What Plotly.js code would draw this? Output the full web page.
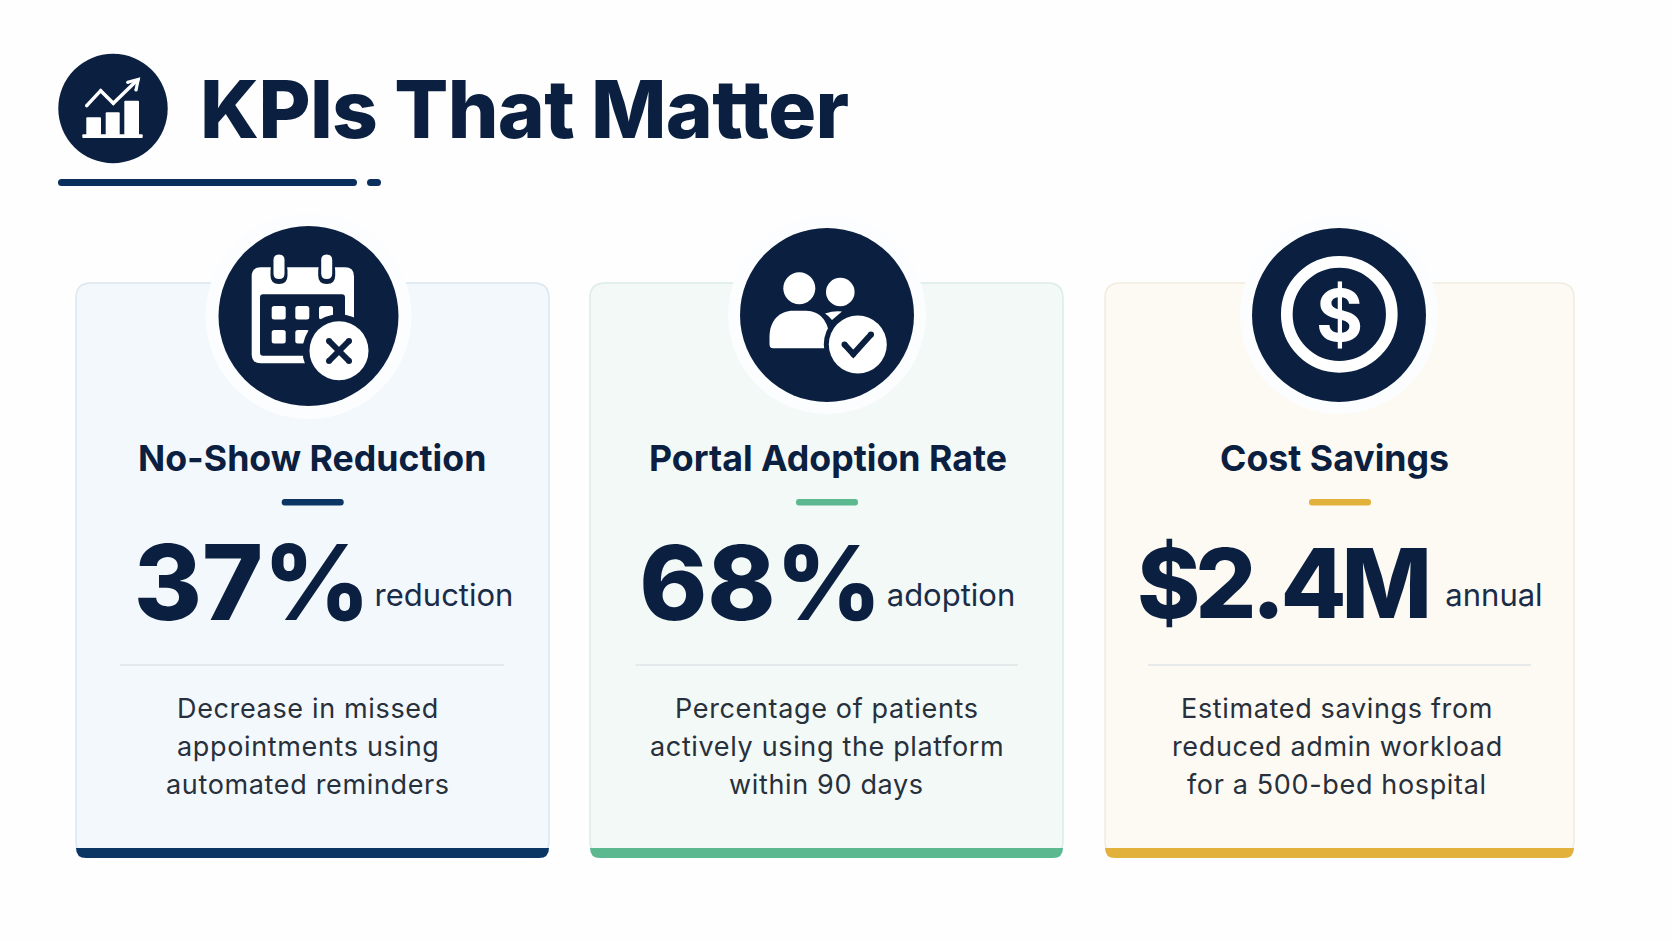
<!DOCTYPE html>
<html><head><meta charset="utf-8">
<script src="https://cdn.plot.ly/plotly-3.0.1.min.js"></script>
<style>html,body{margin:0;padding:0;background:#fefefe}
text[style*="font-size: 27px"]{letter-spacing:0.65px}
text[style*="font-size: 80px"]{letter-spacing:-0.65px}
text[style*="font-size: 96px"]{letter-spacing:-5px}
</style></head>
<body><div id="chart" style="width:1672px;height:941px"></div>
<script>
// ---- chart content ----
const pageTitle = "KPIs That Matter";
const categories = ["No-Show Reduction", "Portal Adoption Rate", "Cost Savings"];
const values = ["37%", "68%", "$2.4M"];
const units = ["reduction", "adoption", "annual"];
const line1 = ["Decrease in missed", "Percentage of patients", "Estimated savings from"];
const line2 = ["appointments using", "actively using the platform", "reduced admin workload"];
const line3 = ["automated reminders", "within 90 days", "for a 500-bed hospital"];
// ---- colours ----
const navy = "#0b2040";
const ink = "#27303b";
const cardFill = ["#f3f8fc", "#f2f9f6", "#fdfaf3"];
const cardLine = ["#dbe6ef", "#dcece7", "#f1ebdf"];
const accent = ["#0b3563", "#5cb88f", "#e2b13c"];
// ---- layout ----
const cardL = [76, 590, 1105], cardR = [549, 1063, 1574];
const cardT = 283, cardB = 858, barT = 848;
const titleX = [312, 827.5, 1334];
const ruleX = [312.7, 827, 1340];
const valueX = [252, 760.5, 1282];
const valueY = [594, 594, 594];
const valueSize = [104, 103, 96];
const unitX = [444, 951, 1494];
const unitY = [598, 598, 598];
const sepL = [120, 635.5, 1148], sepR = [504, 1018, 1531];
const descX = [308, 826.5, 1337];
const iconX = [308.5, 827, 1339], iconY = [316, 315, 315], iconR = [90, 87, 87], haloR = [103, 99, 99];

const shapes = [], annos = [];
const F = "Inter, 'Liberation Sans', sans-serif";
function rr(x0, y0, x1, y1, r) {
  return `M${x0 + r},${y0} L${x1 - r},${y0} Q${x1},${y0} ${x1},${y0 + r} L${x1},${y1 - r} Q${x1},${y1} ${x1 - r},${y1} L${x0 + r},${y1} Q${x0},${y1} ${x0},${y1 - r} L${x0},${y0 + r} Q${x0},${y0} ${x0 + r},${y0} Z`;
}
function base() { return {xref: "x", yref: "y", layer: "below"}; }
function pill(x0, y0, x1, y1, r, fill) {
  shapes.push({...base(), type: "path", path: rr(x0, y0, x1, y1, r), fillcolor: fill, line: {width: 0}});
}
function circle(cx, cy, r, fill) {
  shapes.push({...base(), type: "circle", x0: cx - r, x1: cx + r, y0: cy - r, y1: cy + r, fillcolor: fill, line: {width: 0}});
}
function ring(cx, cy, r, w, col) {
  shapes.push({...base(), type: "circle", x0: cx - r, x1: cx + r, y0: cy - r, y1: cy + r, fillcolor: "rgba(0,0,0,0)", line: {width: w, color: col}});
}
function stroke(pts, w, col) {
  const path = pts.map((p, i) => (i ? "L" : "M") + p[0] + "," + p[1]).join(" ");
  shapes.push({...base(), type: "path", path, line: {width: w, color: col}, fillcolor: "rgba(0,0,0,0)"});
  pts.forEach((p) => circle(p[0], p[1], w / 2, col));
}
function fillPath(path, fill) {
  shapes.push({...base(), type: "path", path, fillcolor: fill, line: {width: 0}});
}
function text(t, x, y, size, color, weight, anchor) {
  annos.push({text: t, x, y, xref: "x", yref: "y", xanchor: anchor || "center", yanchor: "middle", showarrow: false,
    font: {family: F, size, color, weight: weight || 400}, borderpad: 0});
}

// header
circle(113, 108.5, 54.7, navy);
pill(86.3, 117.3, 101, 135, 1, "#ffffff");
pill(105.7, 112.3, 119.7, 135, 1, "#ffffff");
pill(124.3, 100.7, 139, 135, 1, "#ffffff");
pill(82.3, 134.3, 142.7, 138, 1, "#ffffff");
stroke([[86.7, 105.7], [100.7, 90.7], [113.3, 103.3], [135, 82.3]], 3.4, "#ffffff");
stroke([[127.7, 82.3], [138.2, 79.5], [136, 90]], 3.2, "#ffffff");
pill(58, 179, 357, 186, 3.5, "#0b2f5c");
pill(367, 179, 381, 186, 3.5, "#0b2f5c");
text(pageTitle, 524.5, 108, 80, navy, 800);

// cards
categories.forEach((c, i) => {
  const L = cardL[i], R = cardR[i];
  shapes.push({...base(), type: "path", path: rr(L, cardT, R, cardB - 2, 15), fillcolor: cardFill[i], line: {width: 1.5, color: cardLine[i]}});
  fillPath(`M${L},${barT} L${R},${barT} L${R},${cardB - 10} Q${R},${cardB} ${R - 10},${cardB} L${L + 10},${cardB} Q${L},${cardB} ${L},${cardB - 10} Z`, accent[i]);
  circle(iconX[i], iconY[i], haloR[i], "#fcfdfe");
  circle(iconX[i], iconY[i], iconR[i], navy);
  text(c, titleX[i], 458, 35.7, navy, 700);
  pill(ruleX[i] - 31, 499, ruleX[i] + 31, 505.6, 3, accent[i]);
  shapes.push({...base(), type: "line", x0: sepL[i], x1: sepR[i], y0: 665, y1: 665, line: {width: 1.6, color: "#dfe4e8"}});
  text(line1[i], descX[i], 708, 27, ink);
  text(line2[i], descX[i], 746, 27, ink);
  text(line3[i], descX[i], 784, 27, ink);
});

// calendar icon
pill(251.7, 267.3, 354, 363.3, 9, "#ffffff");
pill(260, 294.3, 345, 355.7, 3, navy);
[279, 326.7].forEach((x) => {
  pill(x - 8.5, 262, x + 8.5, 284, 8.5, navy);
  pill(x - 5.5, 254.5, x + 5.5, 279, 5.5, "#ffffff");
});
[271.7, 295.3, 319].forEach((x) => [306, 330].forEach((y) => {
  if (!(x === 319 && y === 330)) pill(x, y, x + 14, y + 13.5, 2.5, "#ffffff");
}));
circle(339, 350.7, 36.5, navy);
circle(339, 350.7, 29.5, "#ffffff");
stroke([[329, 341], [349, 361]], 6, navy);
stroke([[349, 341], [329, 361]], 6, navy);

// people icon
circle(799.3, 288.3, 16, "#ffffff");
circle(840.3, 292, 14.3, "#ffffff");
fillPath("M825,313.5 Q834,310.5 842,311.5 L832,320 Q829,316 825,313.5 Z", "#ffffff");
fillPath("M769.5,344 L769.5,337 C769.5,320 780,310.7 793,310.7 L806,310.7 C820,310.7 829,322 829,337 L829,348.3 L773,348.3 Q769.5,348.3 769.5,344 Z", "#ffffff");
circle(857.8, 344.5, 34, navy);
circle(857.8, 344.5, 29, "#ffffff");
stroke([[844.5, 344.5], [853.3, 354], [871, 334.5]], 6, navy);

// dollar icon
ring(1339.3, 314.3, 52.5, 11.7, "#ffffff");
text("$", 1339.3, 314.3, 72, "#ffffff", 700);

const data = [
  {type: "scatter", mode: "text", x: valueX, y: valueY, text: values, textposition: "middle center",
   textfont: {family: F, size: valueSize, color: navy, weight: 800}, hoverinfo: "skip", showlegend: false},
  {type: "scatter", mode: "text", x: unitX, y: unitY, text: units, textposition: "middle center",
   textfont: {family: F, size: 31, color: "#1a2c47", weight: 400}, hoverinfo: "skip", showlegend: false}
];
const layout = {
  width: 1672, height: 941, margin: {l: 0, r: 0, t: 0, b: 0},
  paper_bgcolor: "#fefefe", plot_bgcolor: "#fefefe", showlegend: false,
  xaxis: {range: [0, 1672], visible: false, fixedrange: true},
  yaxis: {range: [941, 0], visible: false, fixedrange: true},
  shapes, annotations: annos
};
Plotly.newPlot("chart", data, layout, {displayModeBar: false, staticPlot: true});
</script></body></html>
